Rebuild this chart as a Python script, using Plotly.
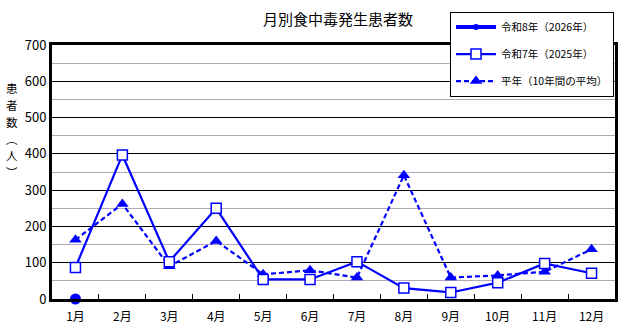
import plotly.graph_objects as go

months = ["1月", "2月", "3月", "4月", "5月", "6月", "7月", "8月", "9月", "10月", "11月", "12月"]
r8_2026 = [0, None, None, None, None, None, None, None, None, None, None, None]
r7_2025 = [87, 397, 103, 250, 54, 54, 103, 30, 18, 45, 98, 71]
avg10 = [163, 262, 90, 160, 68, 79, 59, 341, 59, 65, 75, 137]

name_2026 = "令和8年（2026年）"
name_2025 = "令和7年（2025年）"
name_avg = "平年（10年間の平均）"
ytitle_chars = ["患", "者", "数", "︵", "人", "︶"]

BLUE = "#0000FF"
FONT = "Noto Sans CJK JP"

fig = go.Figure()

fig.add_trace(go.Scatter(
    x=months, y=avg10, name=name_avg, mode="lines+markers",
    line=dict(color=BLUE, width=2.2, dash="5px,3px"),
    marker=dict(symbol="triangle-up", size=11, color=BLUE),
    legendgroup="c", legendrank=3, cliponaxis=False,
))
fig.add_trace(go.Scatter(
    x=months, y=r7_2025, name=name_2025, mode="lines+markers",
    line=dict(color=BLUE, width=2.2),
    marker=dict(symbol="square", size=10, color="white", line=dict(color=BLUE, width=1.5)),
    legendgroup="b", legendrank=2, cliponaxis=False,
))
fig.add_trace(go.Scatter(
    x=months, y=r8_2026, name=name_2026, mode="lines+markers",
    line=dict(color=BLUE, width=4),
    marker=dict(symbol="circle", size=11, color=BLUE),
    legendgroup="a", legendrank=1, cliponaxis=False, showlegend=False,
))
# legend-only sample for 2026 (smaller marker as in the legend)
fig.add_trace(go.Scatter(
    x=[None], y=[None], name=name_2026, mode="lines+markers",
    line=dict(color=BLUE, width=4),
    marker=dict(symbol="circle", size=6, color=BLUE),
    legendgroup="a", legendrank=1,
))

fig.update_layout(
    width=635, height=336,
    margin=dict(l=52, r=20, t=41, b=37),
    paper_bgcolor="white", plot_bgcolor="white",
    font=dict(family=FONT, color="black", size=12),
    title=dict(text="月別食中毒発生患者数", x=338/635, xanchor="center",
               y=1 - 20/336, yanchor="middle", font=dict(size=15, family=FONT)),
    showlegend=True,
    legend=dict(
        x=(450 - 52) / 563, xanchor="left",
        y=(299 - 7) / 258, yanchor="top",
        bgcolor="white", bordercolor="black", borderwidth=1,
        font=dict(size=10.5, family=FONT),
        tracegroupgap=8, itemwidth=40,
    ),
    xaxis=dict(
        type="category", range=[-0.5, 11.5],
        showline=True, linecolor="black", linewidth=3, mirror=True,
        ticks="inside", tickson="boundaries", ticklen=5, tickcolor="black",
        showgrid=False, tickfont=dict(size=12, family=FONT),
        ticklabelstandoff=5,
    ),
    yaxis=dict(
        range=[0, 700], dtick=100, tick0=0,
        showline=True, linecolor="black", linewidth=3, mirror=True,
        showgrid=True, gridcolor="black", gridwidth=1,
        ticks="", tickfont=dict(size=13, family=FONT),
        zeroline=False,
        minor=dict(dtick=50, tick0=0, showgrid=True, gridcolor="#b0a8b8", gridwidth=1),
    ),
)

for i, ch in enumerate(ytitle_chars):
    py = 85 + 17 * i
    fig.add_annotation(
        text=ch, xref="paper", yref="paper",
        x=-40/563, y=(299 - py)/258, xanchor="center", yanchor="middle",
        showarrow=False, font=dict(size=11.5, family=FONT),
    )

fig.write_html("out.html")
